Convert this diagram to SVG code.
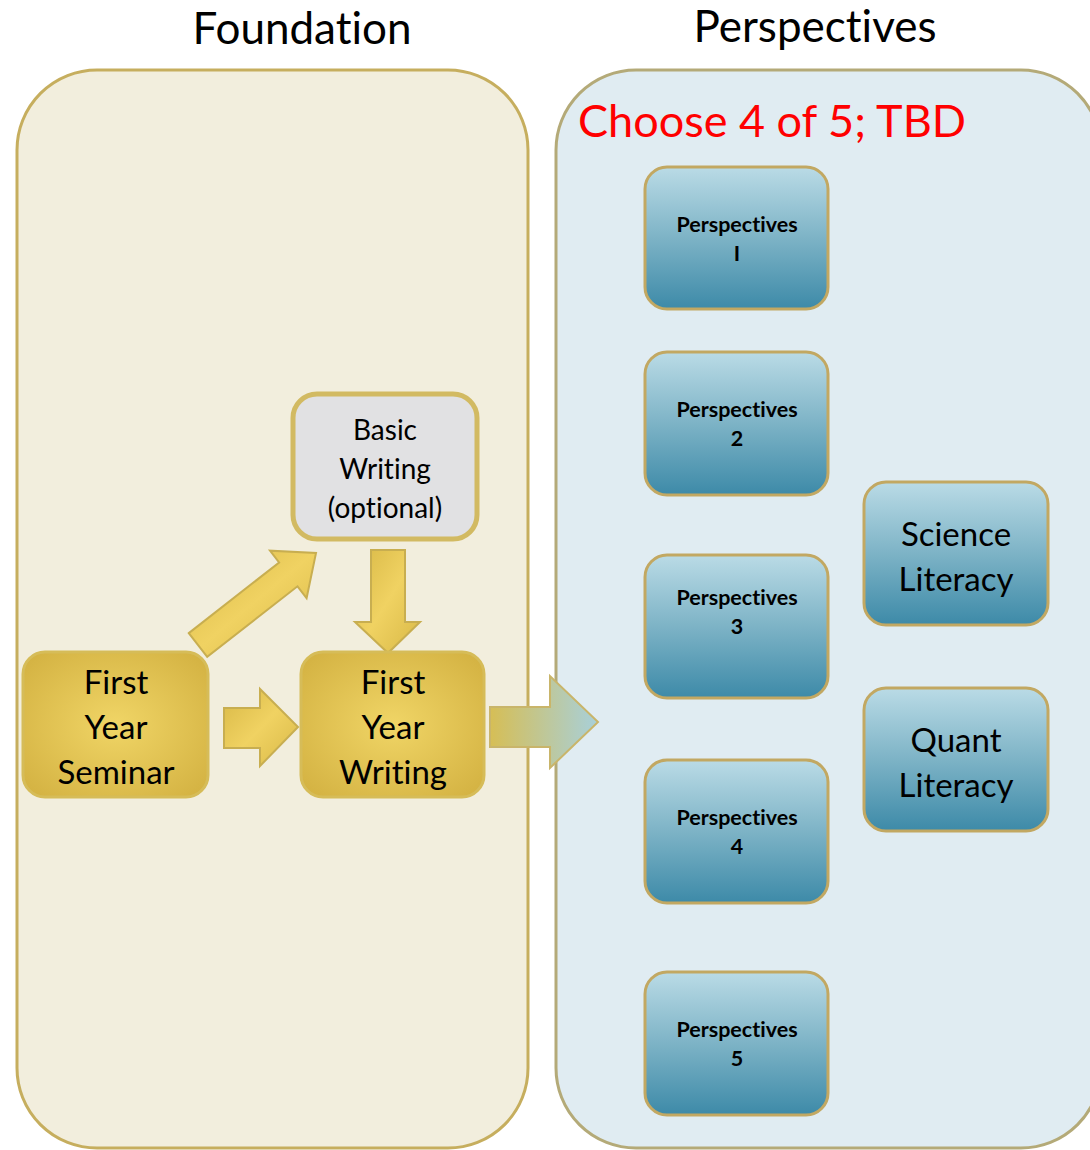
<svg xmlns="http://www.w3.org/2000/svg" width="1090" height="1150" viewBox="0 0 1090 1150">
<defs>
<linearGradient id="blueG" x1="0" y1="0" x2="0" y2="1">
<stop offset="0" stop-color="#BADBE6"/>
<stop offset="0.5" stop-color="#7DB3C6"/>
<stop offset="1" stop-color="#3D8AA8"/>
</linearGradient>
<radialGradient id="goldG" cx="0.5" cy="0.5" r="0.7">
<stop offset="0" stop-color="#F0D566"/>
<stop offset="1" stop-color="#D2B040"/>
</radialGradient>
<linearGradient id="arrowG" x1="0" y1="0" x2="1" y2="1">
<stop offset="0" stop-color="#D8B846"/>
<stop offset="0.5" stop-color="#F0D262"/>
<stop offset="1" stop-color="#D8B846"/>
</linearGradient>
<linearGradient id="bigArrowG" x1="0" y1="0" x2="1" y2="0">
<stop offset="0" stop-color="#D6BE55"/>
<stop offset="1" stop-color="#A8D0DA"/>
</linearGradient>
<style>
text{font-variant-ligatures:none;font-family:Lato,"Open Sans","Liberation Sans",sans-serif}
.hdr{font-size:44px;fill:#000;text-anchor:middle}
.persp{fill:url(#blueG);stroke:#C2A862;stroke-width:3}
.ptxt{font-size:21.5px;font-weight:bold;fill:#000;text-anchor:middle}
.lit{font-size:33px;fill:#000;text-anchor:middle}
.gold{fill:url(#goldG);stroke:#D6BC58;stroke-width:3}
.gtxt{font-size:33px;fill:#000;text-anchor:middle}
.btxt{font-size:28px;fill:#000;text-anchor:middle}
.arr{fill:url(#arrowG);stroke:#C8AE50;stroke-width:2;stroke-linejoin:miter}
</style>
</defs>
<rect width="1090" height="1150" fill="#FFFFFF"/>

<g id="foundation-panel">
<rect x="17" y="70" width="511" height="1078" rx="80" ry="80" fill="#F2EEDD" stroke="#C6AE5E" stroke-width="3"/>
<text class="hdr" x="302" y="44">Foundation</text>
</g>

<g id="perspectives-panel">
<rect x="556" y="70" width="545" height="1078" rx="80" ry="80" fill="#E0ECF2" stroke="#B4AA78" stroke-width="3"/>
<text class="hdr" x="815" y="42">Perspectives</text>
<text x="578" y="137" font-size="45" fill="#FF0000">Choose 4 of 5; TBD</text>
</g>

<g id="connectors">
<polygon class="arr" points="188.8,633.1 279.1,562.5 270,550.7 316,553 306.6,598.1 297.5,586.3 207.2,656.9"/>
<polygon class="arr" points="371,550 405,550 405,622 420,622 388,653 355,622 371,622"/>
<polygon class="arr" points="224,708 260,708 260,689 298,727 260,766 260,748 224,748"/>
<polygon points="490,707 550,707 550,676 598,722 550,768 550,747 490,747" fill="url(#bigArrowG)" stroke="#C9B56A" stroke-width="2"/>
</g>

<g id="basic-writing">
<rect x="293" y="394" width="184" height="145" rx="24" fill="#E1E1E3" stroke="#D2BA62" stroke-width="5"/>
<text class="btxt" x="385" y="440">Basic</text>
<text class="btxt" x="385" y="479">Writing</text>
<text class="btxt" x="385" y="518">(optional)</text>
</g>

<g id="first-year-seminar">
<rect class="gold" x="23" y="652" width="185" height="145" rx="22"/>
<text class="gtxt" x="116" y="694">First</text>
<text class="gtxt" x="116" y="739">Year</text>
<text class="gtxt" x="116" y="784">Seminar</text>
</g>

<g id="first-year-writing">
<rect class="gold" x="301" y="652" width="183" height="145" rx="22"/>
<text class="gtxt" x="393" y="694">First</text>
<text class="gtxt" x="393" y="739">Year</text>
<text class="gtxt" x="393" y="784">Writing</text>
</g>

<g id="perspectives-1">
<rect class="persp" x="645" y="167" width="183" height="142" rx="22"/>
<text class="ptxt" x="737" y="232">Perspectives</text>
<text class="ptxt" x="737" y="261">I</text>
</g>
<g id="perspectives-2">
<rect class="persp" x="645" y="352" width="183" height="143" rx="22"/>
<text class="ptxt" x="737" y="417">Perspectives</text>
<text class="ptxt" x="737" y="446">2</text>
</g>
<g id="perspectives-3">
<rect class="persp" x="645" y="555" width="183" height="143" rx="22"/>
<text class="ptxt" x="737" y="605">Perspectives</text>
<text class="ptxt" x="737" y="634">3</text>
</g>
<g id="perspectives-4">
<rect class="persp" x="645" y="760" width="183" height="143" rx="22"/>
<text class="ptxt" x="737" y="825">Perspectives</text>
<text class="ptxt" x="737" y="854">4</text>
</g>
<g id="perspectives-5">
<rect class="persp" x="645" y="972" width="183" height="143" rx="22"/>
<text class="ptxt" x="737" y="1037">Perspectives</text>
<text class="ptxt" x="737" y="1066">5</text>
</g>

<g id="science-literacy">
<rect class="persp" x="864" y="482" width="184" height="143" rx="22"/>
<text class="lit" x="956" y="546">Science</text>
<text class="lit" x="956" y="591">Literacy</text>
</g>
<g id="quant-literacy">
<rect class="persp" x="864" y="688" width="184" height="143" rx="22"/>
<text class="lit" x="956" y="752">Quant</text>
<text class="lit" x="956" y="797">Literacy</text>
</g>
</svg>
